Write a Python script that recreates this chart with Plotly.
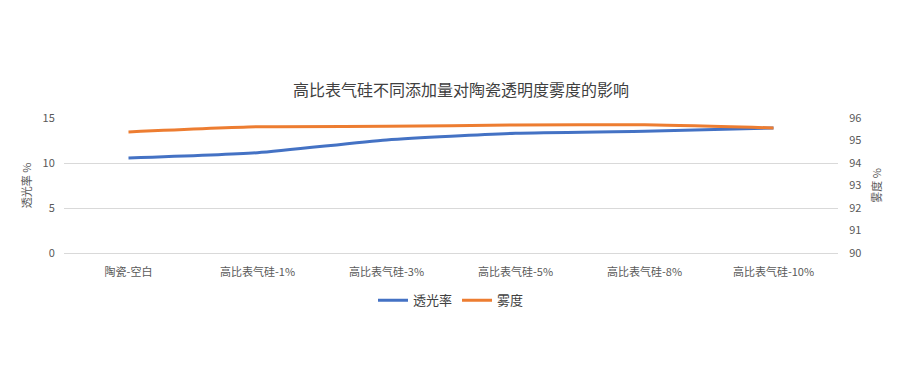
import plotly.graph_objects as go

categories = ["陶瓷-空白", "高比表气硅-1%", "高比表气硅-3%", "高比表气硅-5%", "高比表气硅-8%", "高比表气硅-10%"]
transmittance = [10.55, 11.14, 12.56, 13.3, 13.52, 13.89]
haze = [95.38, 95.61, 95.63, 95.69, 95.70, 95.56]
left_ticks = [0, 5, 10, 15]
right_ticks = [90, 91, 92, 93, 94, 95, 96]

FONT = "Noto Sans CJK SC"
GRAY = "#595959"

fig = go.Figure()
fig.add_trace(go.Scatter(x=categories, y=transmittance, name="透光率", mode="lines",
                         line=dict(color="#4472C4", width=3, shape="spline", smoothing=0.6),
                         yaxis="y"))
fig.add_trace(go.Scatter(x=categories, y=haze, name="雾度", mode="lines",
                         line=dict(color="#ED7D31", width=3, shape="spline", smoothing=0.6),
                         yaxis="y2"))

fig.update_layout(
    width=922, height=383,
    paper_bgcolor="white", plot_bgcolor="white",
    margin=dict(l=64, r=84, t=118, b=130, autoexpand=False),
    font=dict(family=FONT, color=GRAY, size=11),
    title=dict(text="高比表气硅不同添加量对陶瓷透明度雾度的影响", x=0.5, xanchor="center",
               y=1 - 90 / 383, yanchor="middle",
               font=dict(family=FONT, size=16, color="#404040")),
    xaxis=dict(type="category", range=[-0.5, 5.5], showgrid=False, showline=False,
               ticks="outside", ticklen=9, tickcolor="rgba(0,0,0,0)",
               tickfont=dict(size=11, color=GRAY), automargin=False),
    yaxis=dict(range=[0, 15], tickvals=left_ticks, showgrid=True, gridcolor="#d9d9d9",
               gridwidth=1, zeroline=True, zerolinecolor="#d9d9d9", zerolinewidth=1,
               showline=False, ticks="outside", ticklen=6, tickcolor="rgba(0,0,0,0)",
               automargin=False,
               title=dict(text="透光率 %", font=dict(size=11, color=GRAY), standoff=8),
               tickfont=dict(size=11, color=GRAY)),
    yaxis2=dict(range=[90, 96], tickvals=right_ticks, overlaying="y", side="right",
                showgrid=False, zeroline=False, showline=False,
                ticks="outside", ticklen=8, tickcolor="rgba(0,0,0,0)", automargin=False,
                title=dict(text="雾度 %", font=dict(size=11, color=GRAY), standoff=12),
                tickfont=dict(size=11, color=GRAY)),
    legend=dict(orientation="h", x=0.5, xanchor="center", y=-0.35, yanchor="middle",
                font=dict(size=13, color="#404040"), itemwidth=30),
    showlegend=True,
)

fig.write_html("out.html", config={"displayModeBar": False},
               post_script="document.body.style.margin='0';")
